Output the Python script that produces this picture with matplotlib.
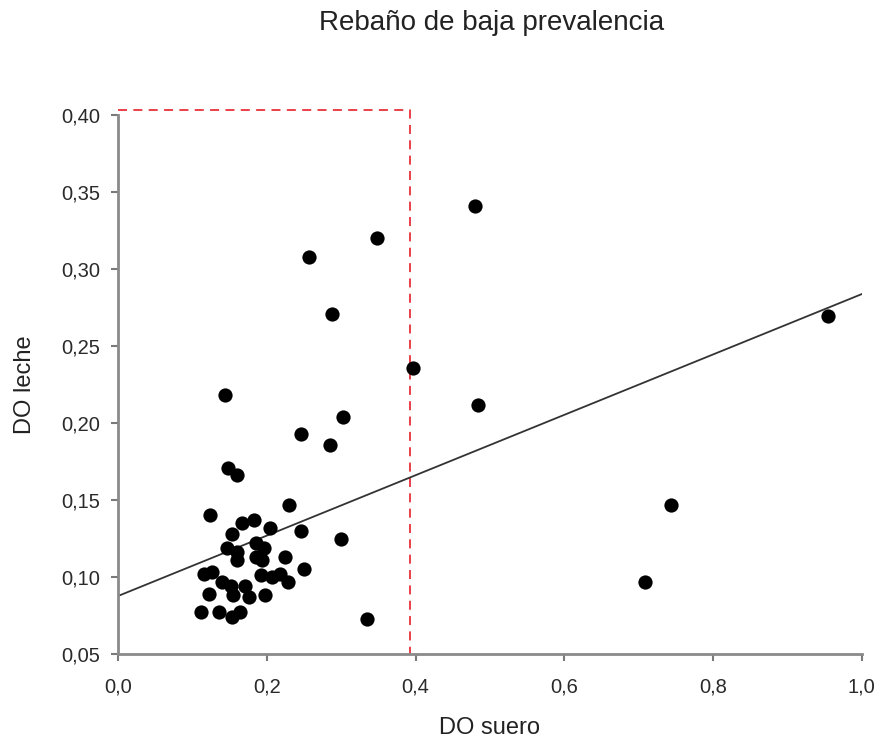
# %% import modules
import numpy as np
import matplotlib.pyplot as plt

plt.rcParams['font.family'] = ['Liberation Sans', 'DejaVu Sans']

# %% Data
do_suero = [
    0.480, 0.348, 0.256, 0.287, 0.397, 0.954, 0.484, 0.144, 0.303, 0.246,
    0.285, 0.148, 0.160, 0.744, 0.230, 0.708, 0.335, 0.123, 0.246, 0.299,
    0.250, 0.166, 0.183, 0.204, 0.153, 0.147, 0.160, 0.185, 0.196, 0.185,
    0.194, 0.224, 0.115, 0.126, 0.140, 0.152, 0.170, 0.176, 0.155, 0.198,
    0.207, 0.218, 0.229, 0.122, 0.112, 0.135, 0.153, 0.164, 0.160, 0.192,
]
do_leche = [
    0.341, 0.320, 0.308, 0.271, 0.236, 0.2695, 0.212, 0.218, 0.204, 0.193,
    0.186, 0.171, 0.166, 0.147, 0.147, 0.097, 0.073, 0.140, 0.130, 0.125,
    0.105, 0.135, 0.137, 0.132, 0.128, 0.119, 0.116, 0.122, 0.119, 0.113,
    0.111, 0.113, 0.102, 0.103, 0.097, 0.094, 0.094, 0.087, 0.088, 0.088,
    0.100, 0.102, 0.097, 0.089, 0.0775, 0.0775, 0.074, 0.0775, 0.111, 0.101,
]

# trend line as drawn (intercept, slope)
trend_intercept = 0.0877
trend_slope = 0.196

# cut-off box
cut_x = 0.393
cut_y = 0.403

xticks = [0.0, 0.2, 0.4, 0.6, 0.8, 1.0]
yticks = [0.05, 0.10, 0.15, 0.20, 0.25, 0.30, 0.35, 0.40]

# %% Plot
fig = plt.figure(figsize=(8.82, 7.42), dpi=100)
ax = fig.add_axes([0.134, 0.1186, 0.843, 0.7264])

ax.scatter(do_suero, do_leche, s=105, color='black', zorder=3, linewidths=0)

line_x = np.array([0.0, 1.0])
ax.plot(line_x, trend_intercept + trend_slope * line_x, color='#333333', lw=1.3, zorder=2)

ax.plot([0.0, cut_x, cut_x], [cut_y, cut_y, 0.05], color='#e8323a',
        ls=(0, (5, 3.5)), lw=1.3, clip_on=False, zorder=1)

ax.set_xlim(0.0, 1.0)
ax.set_ylim(0.05, 0.40)
ax.set_xticks(xticks)
ax.set_yticks(yticks)
ax.set_xticklabels([f"{v:.1f}".replace('.', ',') for v in xticks])
ax.set_yticklabels([f"{v:.2f}".replace('.', ',') for v in yticks])

for side in ['top', 'right']:
    ax.spines[side].set_visible(False)
for side in ['left', 'bottom']:
    ax.spines[side].set_color('#8a8a8a')
    ax.spines[side].set_linewidth(2)
ax.tick_params(colors='#7a7a7a', labelcolor='#2a2a2a', labelsize=14.5,
               length=5, width=1.5, direction='out')
ax.tick_params(axis='x', pad=12)
ax.tick_params(axis='y', pad=8)

ax.set_xlabel("DO suero", fontsize=17, color='#222222', va='center')
ax.xaxis.set_label_coords(0.5, -0.137)
ax.set_ylabel("DO leche", fontsize=17, color='#222222', va='center')
ax.yaxis.set_label_coords(-0.125, 0.5)
fig.text(0.557, 0.969, "Rebaño de baja prevalencia", ha='center', va='center',
         fontsize=20, color='#222222')

fig.savefig('out.png', dpi=100)
